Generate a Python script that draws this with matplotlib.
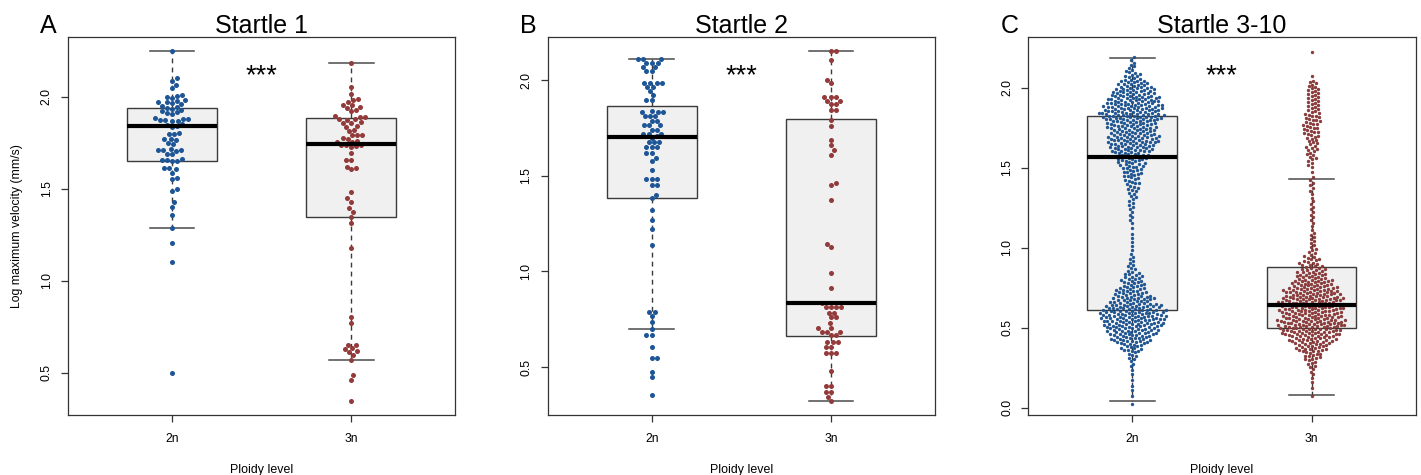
import numpy as np
import matplotlib
matplotlib.use("Agg")
import matplotlib.pyplot as plt

plt.rcParams["font.family"] = ["Liberation Sans", "DejaVu Sans"]

groups = ["2n", "3n"]
panel_letters = ["A", "B", "C"]
panel_titles = ["Startle 1", "Startle 2", "Startle 3-10"]

# Startle 1: log max velocity of every fish
s1_2n = [2.250, 2.100, 2.087, 2.063, 2.045,
         2.010, 2.005, 2.000, 1.995,
         1.980, 1.975, 1.970, 1.970, 1.965, 1.960,
         1.950, 1.945, 1.940, 1.935, 1.930,
         1.920, 1.915, 1.910, 1.905,
         1.885, 1.880, 1.878, 1.875, 1.872, 1.870, 1.868,
         1.850, 1.846, 1.842, 1.838,
         1.805, 1.800, 1.795, 1.772, 1.768, 1.764, 1.750, 1.742,
         1.715, 1.712, 1.710, 1.708, 1.705, 1.690, 1.686,
         1.662, 1.658, 1.655, 1.652, 1.648, 1.615, 1.610, 1.605,
         1.587, 1.558, 1.554, 1.497, 1.488,
         1.429, 1.402, 1.357, 1.288, 1.203, 1.103, 0.496]
s1_3n = [2.181, 2.055, 2.015, 1.988, 1.984, 1.973, 1.957, 1.953, 1.944, 1.940,
         1.926, 1.922, 1.893, 1.891, 1.889, 1.879, 1.877, 1.875, 1.861, 1.859,
         1.857, 1.839, 1.835, 1.817, 1.813, 1.794, 1.792, 1.790, 1.776, 1.772,
         1.758, 1.756, 1.754, 1.739, 1.737, 1.735, 1.730, 1.726,
         1.696, 1.658, 1.654, 1.618, 1.614, 1.605,
         1.484, 1.448, 1.430, 1.393, 1.375, 1.348, 1.315, 1.176,
         0.804, 0.772, 0.653, 0.649, 0.634, 0.630, 0.616, 0.612,
         0.596, 0.569, 0.487, 0.460, 0.348]

# Startle 2
s2_2n = [2.114, 2.114, 2.114, 2.093, 2.093, 2.093, 2.070, 2.070, 2.049, 2.049,
         1.986, 1.986, 1.986, 1.986, 1.965, 1.965, 1.944, 1.922, 1.896, 1.896,
         1.840, 1.835, 1.835, 1.835, 1.812, 1.812, 1.812, 1.788, 1.788,
         1.765, 1.765, 1.765, 1.742, 1.742, 1.722, 1.722, 1.722, 1.708,
         1.700, 1.676, 1.676, 1.676, 1.652, 1.652, 1.652, 1.620, 1.620,
         1.596, 1.578, 1.530, 1.486, 1.486, 1.486, 1.451, 1.451, 1.399,
         1.382, 1.321, 1.272, 1.220, 1.138,
         0.789, 0.789, 0.767, 0.737, 0.697, 0.667, 0.667, 0.603,
         0.545, 0.545, 0.476, 0.446, 0.354]
s2_3n = [2.154, 2.154, 2.105, 2.000, 1.986,
         1.913, 1.913, 1.913, 1.892, 1.892, 1.875, 1.875, 1.843, 1.843,
         1.795, 1.762, 1.690, 1.660, 1.634, 1.612, 1.463, 1.450, 1.373,
         1.146, 1.129, 0.990, 0.915, 0.833,
         0.812, 0.812, 0.812, 0.812, 0.784, 0.784, 0.760, 0.760, 0.728,
         0.702, 0.702, 0.685, 0.685, 0.685, 0.667, 0.667,
         0.632, 0.632, 0.632, 0.606, 0.606, 0.571, 0.571, 0.571,
         0.479, 0.401, 0.401, 0.371, 0.371, 0.345, 0.324]

# Startle 3-10: too many fish to list, so counts per 0.05-wide band
s3_bin_lo = np.round(np.arange(0.0, 2.25, 0.05), 2)
s3_2n_counts = [1, 1, 2, 1, 2, 3, 6, 13, 23, 29, 35, 39, 34, 25, 19, 14, 11, 5, 4, 2,
                2, 2, 1, 3, 3, 4, 5, 7, 9, 12, 15, 20, 26, 30, 27, 29, 37, 35, 32, 26,
                19, 10, 5, 3, 0]
s3_3n_counts = [0, 1, 1, 2, 3, 6, 11, 19, 26, 35, 40, 35, 38, 38, 33, 26, 19, 14, 10, 5,
                4, 4, 2, 3, 3, 3, 2, 3, 3, 1, 4, 6, 7, 7, 10, 10, 10, 8, 8, 8,
                6, 1, 0, 0, 1]

# box statistics, [2n, 3n]
q1s = [[1.652, 1.346], [1.385, 0.662], [0.6125, 0.498]]
medians = [[1.839, 1.743], [1.704, 0.834], [1.571, 0.642]]
q3s = [[1.940, 1.882], [1.864, 1.796], [1.825, 0.877]]
whisk_lo = [[1.286, 0.571], [0.697, 0.322], [0.042, 0.079]]
whisk_hi = [[2.250, 2.185], [2.110, 2.153], [2.1875, 1.433]]

ylims = [(0.270, 2.3245), (0.249, 2.227), (-0.046, 2.319)]
yticks = [[0.5, 1.0, 1.5, 2.0], [0.5, 1.0, 1.5, 2.0], [0.0, 0.5, 1.0, 1.5, 2.0]]

blue = "#1d5596"
red = "#933a3a"


def expand_bins(lo, counts, width=0.05):
    vals = []
    for a, c in zip(lo, counts):
        vals += list(a + (np.arange(c) + 0.5) / c * width) if c else []
    return vals


def swarm(y_px, d):
    # beeswarm in pixel space: each point goes as close to the centre as it can
    order = np.argsort(y_px, kind="stable")
    x = np.zeros(len(y_px))
    px, py = [], []
    for n, i in enumerate(order):
        y = y_px[i]
        near = []
        for j in range(len(py) - 1, -1, -1):
            if y - py[j] >= d:
                break
            near.append((px[j], py[j]))
        cands = [0.0]
        for a, b in near:
            dx = np.sqrt(max(d * d - (y - b) ** 2, 0.0))
            cands += [a - dx, a + dx]
        sgn = 1 if n % 2 else -1
        cands.sort(key=lambda c: (round(abs(c), 3), sgn * c))
        for c in cands:
            if all((c - a) ** 2 + (y - b) ** 2 >= d * d - 1e-6 for a, b in near):
                x[i] = c
                break
        px.append(x[i])
        py.append(y)
    return x


data = [[s1_2n, s1_3n], [s2_2n, s2_3n],
        [expand_bins(s3_bin_lo, s3_2n_counts), expand_bins(s3_bin_lo, s3_3n_counts)]]

W, H = 1421, 475
fig = plt.figure(figsize=(W / 100, H / 100), dpi=100)
lefts = [68, 547.7, 1028.3]

for k in range(3):
    ax = fig.add_axes([lefts[k] / W, 60 / H, 387.3 / W, 378 / H])
    ax.set_xlim(0.42, 2.58)
    ax.set_ylim(*ylims[k])

    stats = [dict(med=medians[k][g], q1=q1s[k][g], q3=q3s[k][g],
                  whislo=whisk_lo[k][g], whishi=whisk_hi[k][g], fliers=[]) for g in range(2)]
    bp = ax.bxp(stats, positions=[1, 2], widths=0.5, patch_artist=True, showfliers=False,
                manage_ticks=False, capwidths=0.25,
                boxprops=dict(facecolor="#f0f0f0", edgecolor="#3a3a3a", linewidth=1.0),
                medianprops=dict(color="black", linewidth=3.0, solid_capstyle="butt"),
                whiskerprops=dict(color="#3a3a3a", linewidth=1.0, linestyle=(0, (3.5, 3))),
                capprops=dict(color="#4a4a4a", linewidth=1.1))
    for m in bp["medians"]:
        m.set_zorder(3)

    # swarm offsets worked out in pixels through the axes transform
    p0 = ax.transData.transform((0, 0))
    p1 = ax.transData.transform((1, 1))
    sx, sy = p1 - p0
    d = 5.2 if k < 2 else 3.7
    size = 13 if k < 2 else 4.6
    for g, col in enumerate([blue, red]):
        ys = np.asarray(data[k][g])
        xs = swarm(ys * sy, d) / sx + (g + 1)
        if k < 2:
            ax.scatter(xs, ys, s=size, color=col, linewidths=0, zorder=2)
        else:
            edge = "#174a82" if g == 0 else "#6e2a2a"
            ax.scatter(xs, ys, s=size, color=col, edgecolors=edge, linewidths=0.25, zorder=2)

    ax.set_xticks([1, 2])
    ax.set_xticklabels(groups)
    ax.set_yticks(yticks[k])
    ax.set_yticklabels([f"{v:.1f}" for v in yticks[k]])
    ax.tick_params(axis="both", direction="out", length=5, width=0.9, color="#333333",
                   labelsize=8.7)
    ax.tick_params(axis="x", pad=8.0)
    ax.tick_params(axis="y", pad=6.0)
    plt.setp(ax.get_yticklabels(), rotation=90, va="center")
    for sp in ax.spines.values():
        sp.set_color("#333333")
        sp.set_linewidth(0.9)

    ax.set_xlabel("Ploidy level", fontsize=8.9)
    ax.xaxis.set_label_coords(0.5, -0.1534)
    ax.xaxis.label.set_va("baseline")
    if k == 0:
        ax.set_ylabel("Log maximum velocity (mm/s)", fontsize=8.8)
        ax.yaxis.set_label_coords(-0.1317, 0.5)
        ax.yaxis.label.set_va("center")

    ax.text(0.5, 1 + 4.3 / 378, panel_titles[k], transform=ax.transAxes,
            ha="center", va="baseline", fontsize=18)
    ax.text(-28 / 387.3, 1 + 4.3 / 378, panel_letters[k], transform=ax.transAxes,
            ha="left", va="baseline", fontsize=18)
    ax.text(1.5, 0.878, "***", transform=ax.get_xaxis_transform(),
            ha="center", va="baseline", fontsize=19.5)

fig.savefig("out.png", dpi=100)
